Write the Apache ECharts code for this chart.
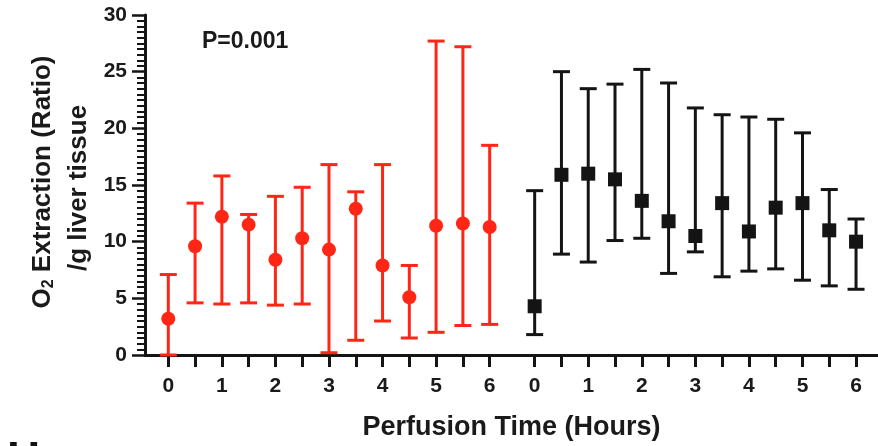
<!DOCTYPE html>
<html>
<head>
<meta charset="utf-8">
<script src="https://cdn.jsdelivr.net/npm/echarts@6/dist/echarts.min.js"></script>
<style>
html,body{margin:0;padding:0;background:#fff;}
#chart{width:878px;height:446px;}
</style>
</head>
<body>
<div id="chart"></div>
<script>
// ---- data ----
const hours = [0, 0.5, 1, 1.5, 2, 2.5, 3, 3.5, 4, 4.5, 5, 5.5, 6];
const tickLabels = ['0', '1', '2', '3', '4', '5', '6'];
const redMean  = [3.2, 9.6, 12.2, 11.5, 8.4, 10.3, 9.3, 12.9, 7.9, 5.1, 11.4, 11.6, 11.3];
const redLow   = [0.0, 4.6, 4.5, 4.6, 4.4, 4.5, 0.2, 1.3, 3.0, 1.5, 2.0, 2.6, 2.7];
const redHigh  = [7.1, 13.4, 15.8, 12.4, 14.0, 14.8, 16.8, 14.4, 16.8, 7.9, 27.7, 27.2, 18.5];
const blackMean = [4.3, 15.9, 16.0, 15.5, 13.6, 11.8, 10.5, 13.4, 10.9, 13.0, 13.4, 11.0, 10.0];
const blackLow  = [1.8, 8.9, 8.2, 10.1, 10.3, 7.2, 9.1, 6.9, 7.4, 7.6, 6.6, 6.1, 5.8];
const blackHigh = [14.5, 25.0, 23.5, 23.9, 25.2, 24.0, 21.8, 21.2, 21.0, 20.8, 19.6, 14.6, 12.0];
const yTicks = [0, 5, 10, 15, 20, 25, 30];

// ---- layout ----
const GROUP_OFFSET = 6.84; // horizontal shift of second group (in hour units)
const RED = '#ff2616';
const BLACK = '#141414';
const FONT = 'Liberation Sans, Arial, Helvetica, sans-serif';

const redX = hours.map(h => h);
const blackX = hours.map(h => h + GROUP_OFFSET);
const tickPositions = redX.concat(blackX);
const labelPositions = tickLabels.map(Number).concat(tickLabels.map(t => Number(t) + GROUP_OFFSET));

function errData(xs, lo, hi) { return xs.map((x, i) => [x, lo[i], hi[i]]); }
function ptData(xs, m) { return xs.map((x, i) => [x, m[i]]); }

function errRender(color) {
  return function (params, api) {
    const x = api.value(0);
    const pHi = api.coord([x, api.value(2)]);
    const pLo = api.coord([x, api.value(1)]);
    const hw = 8.5;
    const style = { stroke: color, lineWidth: 3, fill: null };
    return {
      type: 'group',
      children: [
        { type: 'line', shape: { x1: pHi[0], y1: pHi[1], x2: pLo[0], y2: pLo[1] }, style: style },
        { type: 'line', shape: { x1: pHi[0] - hw, y1: pHi[1], x2: pHi[0] + hw, y2: pHi[1] }, style: style },
        { type: 'line', shape: { x1: pLo[0] - hw, y1: pLo[1], x2: pLo[0] + hw, y2: pLo[1] }, style: style }
      ]
    };
  };
}

const chart = echarts.init(document.getElementById('chart'), null, { renderer: 'canvas' });
chart.setOption({
  animation: false,
  backgroundColor: '#ffffff',
  grid: { left: 145, right: 0, top: 15, bottom: 90, containLabel: false },
  xAxis: {
    type: 'value',
    min: -0.435,
    max: 13.25,
    splitLine: { show: false },
    axisLine: { show: true, onZero: false, lineStyle: { color: BLACK, width: 3 } },
    axisTick: { show: true, length: 12, customValues: tickPositions, lineStyle: { color: BLACK, width: 3 } },
    axisLabel: {
      customValues: labelPositions,
      margin: 21,
      fontSize: 21, fontWeight: 'bold', fontFamily: FONT, color: '#1a1a1a',
      formatter: function (v) {
        const h = v >= GROUP_OFFSET - 0.2 ? v - GROUP_OFFSET : v;
        return tickLabels[Math.round(h)];
      }
    },
    name: 'Perfusion Time (Hours)',
    nameLocation: 'middle',
    nameGap: 59,
    nameTextStyle: { fontSize: 27, fontWeight: 'bold', fontFamily: FONT, color: '#1a1a1a' }
  },
  yAxis: {
    type: 'value',
    min: 0, max: 30, interval: 5,
    splitLine: { show: false },
    axisLine: { show: true, onZero: false, lineStyle: { color: BLACK, width: 3 } },
    axisTick: { show: true, length: 13, lineStyle: { color: BLACK, width: 2.5 } },
    minorTick: { show: true, splitNumber: 10, length: 8, lineStyle: { color: BLACK, width: 2 } },
    axisLabel: {
      margin: 18,
      fontSize: 21, fontWeight: 'bold', fontFamily: FONT, color: '#1a1a1a',
      formatter: function (v) { return yTicks.indexOf(v) >= 0 ? String(v) : ''; }
    }
  },
  series: [
    { type: 'custom', data: errData(redX, redLow, redHigh), renderItem: errRender(RED), z: 3 },
    { type: 'custom', data: errData(blackX, blackLow, blackHigh), renderItem: errRender(BLACK), z: 3 },
    { type: 'scatter', data: ptData(redX, redMean), symbol: 'circle', symbolSize: 14, itemStyle: { color: RED, opacity: 1 }, z: 4 },
    { type: 'scatter', data: ptData(blackX, blackMean), symbol: 'rect', symbolSize: 14, itemStyle: { color: BLACK, opacity: 1 }, z: 4 }
  ],
  graphic: [
    {
      type: 'text', x: 43, y: 182, rotation: Math.PI / 2,
      style: {
        text: '{b|O}{s|2}{b| Extraction (Ratio)}',
        align: 'center', verticalAlign: 'middle',
        rich: {
          b: { fontSize: 26, fontWeight: 'bold', fontFamily: FONT, fill: '#1a1a1a', lineHeight: 28 },
          s: { fontSize: 16, fontWeight: 'bold', fontFamily: FONT, fill: '#1a1a1a', lineHeight: 16, verticalAlign: 'bottom' }
        }
      }
    },
    {
      type: 'text', x: 79, y: 188, rotation: Math.PI / 2,
      style: {
        text: '/g liver tissue',
        align: 'center', verticalAlign: 'middle',
        font: 'bold 26px ' + FONT, fill: '#1a1a1a'
      }
    },
    {
      type: 'text', x: 202, y: 42,
      style: { text: 'P=0.001', align: 'left', verticalAlign: 'middle', font: 'bold 23px ' + FONT, fill: '#1a1a1a' }
    },
    {
      type: 'text', x: 7, y: 461,
      style: { text: 'H', align: 'left', verticalAlign: 'middle', font: 'bold 46px ' + FONT, fill: '#111' }
    }
  ]
});
</script>
</body>
</html>
